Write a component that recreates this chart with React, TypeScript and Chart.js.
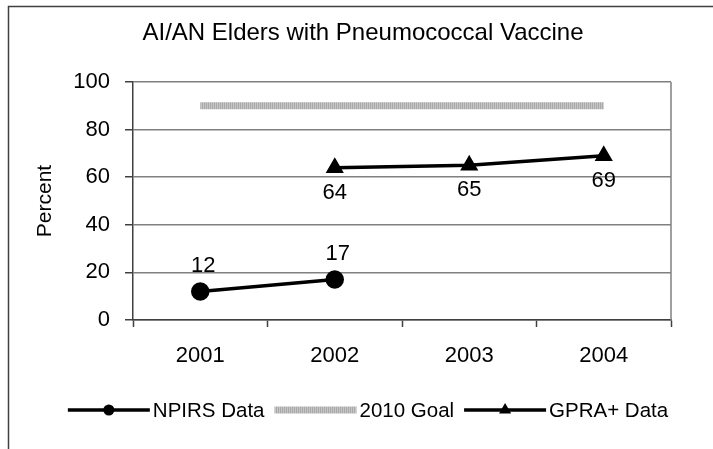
import React, { useEffect, useRef } from "react";
import { Chart, registerables } from "chart.js";

Chart.register(...registerables);

const years = ["2001", "2002", "2003", "2004"];
const npirsData = [12, 17, null, null];
const goalData = [90, 90, 90, 90];
const gpraData = [null, 64, 65, 69];
const seriesNames = ["NPIRS Data", "2010 Goal", "GPRA+ Data"];
const chartTitle = "AI/AN Elders with Pneumococcal Vaccine";
const yAxisTitle = "Percent";
const yMin = 0;
const yMax = 100;
const yStep = 20;

const FONT = '"Liberation Sans", Arial, Helvetica, sans-serif';

function makeGoalPattern(): CanvasPattern | string {
  const c = document.createElement("canvas");
  c.width = 2;
  c.height = 1;
  const g = c.getContext("2d");
  if (!g) return "#b3b3b3";
  g.fillStyle = "#a9a9a9";
  g.fillRect(0, 0, 1, 1);
  g.fillStyle = "#c6c6c6";
  g.fillRect(1, 0, 1, 1);
  const p = g.createPattern(c, "repeat");
  return p || "#b3b3b3";
}

const customPlugin = {
  id: "customDecor",
  beforeDraw(chart: any) {
    const ctx = chart.ctx;
    ctx.save();
    ctx.fillStyle = "#ffffff";
    ctx.fillRect(0, 0, chart.width, chart.height);
    ctx.strokeStyle = "#404040";
    ctx.lineWidth = 1.5;
    ctx.beginPath();
    ctx.moveTo(8.5, chart.height);
    ctx.lineTo(8.5, 6.5);
    ctx.lineTo(chart.width, 6.5);
    ctx.stroke();
    ctx.restore();
  },
  afterDatasetsDraw(chart: any) {
    const ctx = chart.ctx;
    ctx.save();
    ctx.font = `22px ${FONT}`;
    ctx.fillStyle = "#000";
    ctx.textAlign = "center";
    ctx.textBaseline = "middle";
    const m0 = chart.getDatasetMeta(0);
    m0.data.forEach((pt: any, i: number) => {
      const v = npirsData[i];
      if (v == null) return;
      ctx.fillText(String(v), pt.x + 3, pt.y - 26);
    });
    const m2 = chart.getDatasetMeta(2);
    m2.data.forEach((pt: any, i: number) => {
      const v = gpraData[i];
      if (v == null) return;
      ctx.fillText(String(v), pt.x, pt.y + 25);
    });
    ctx.restore();
  },
  afterDraw(chart: any) {
    const ctx = chart.ctx;
    const area = chart.chartArea;
    ctx.save();
    ctx.strokeStyle = "#808080";
    ctx.lineWidth = 1.5;
    ctx.beginPath();
    ctx.moveTo(area.right, area.top);
    ctx.lineTo(area.right, area.bottom);
    ctx.stroke();

    ctx.fillStyle = "#000";
    ctx.font = `24px ${FONT}`;
    ctx.textAlign = "center";
    ctx.textBaseline = "alphabetic";
    ctx.fillText(chartTitle, 363, 40);

    ctx.save();
    ctx.translate(45, (area.top + area.bottom) / 2);
    ctx.rotate(-Math.PI / 2);
    ctx.font = `21px ${FONT}`;
    ctx.textAlign = "center";
    ctx.textBaseline = "middle";
    ctx.fillText(yAxisTitle, 0, 0);
    ctx.restore();

    const ds = chart.data.datasets;
    const lineLen = 82;
    const gapAfterLine = 3;
    const gapAfterText = 10;
    ctx.font = `20.5px ${FONT}`;
    const widths = seriesNames.map((n) => ctx.measureText(n).width);
    const total =
      widths.reduce((a: number, b: number) => a + b, 0) +
      seriesNames.length * (lineLen + gapAfterLine) +
      (seriesNames.length - 1) * gapAfterText;
    let x = 368 - total / 2;
    const ly = 410;
    seriesNames.forEach((name, i) => {
      const d = ds[i];
      ctx.strokeStyle = d.borderColor;
      ctx.lineWidth = d.borderWidth;
      ctx.lineCap = "butt";
      ctx.beginPath();
      ctx.moveTo(x, ly);
      ctx.lineTo(x + lineLen, ly);
      ctx.stroke();
      const cx = x + lineLen / 2;
      ctx.fillStyle = "#000";
      if (d.pointStyle === "circle") {
        ctx.beginPath();
        ctx.arc(cx, ly, 5.5, 0, Math.PI * 2);
        ctx.fill();
      } else if (d.pointStyle === "triangle") {
        const r = 7;
        ctx.beginPath();
        ctx.moveTo(cx, ly - r);
        ctx.lineTo(cx + r * Math.sin((2 * Math.PI) / 3), ly - r * Math.cos((2 * Math.PI) / 3));
        ctx.lineTo(cx + r * Math.sin((4 * Math.PI) / 3), ly - r * Math.cos((4 * Math.PI) / 3));
        ctx.closePath();
        ctx.fill();
      }
      x += lineLen + gapAfterLine;
      ctx.fillStyle = "#000";
      ctx.textAlign = "left";
      ctx.textBaseline = "middle";
      ctx.fillText(name, x, ly + 1);
      x += widths[i] + gapAfterText;
    });
    ctx.restore();
  },
};

export default function App() {
  const ref = useRef<HTMLCanvasElement>(null);

  useEffect(() => {
    const canvas = ref.current;
    if (!canvas) return;
    const goalPattern = makeGoalPattern();
    const chart = new Chart(canvas, {
      type: "line",
      data: {
        labels: years,
        datasets: [
          {
            label: seriesNames[0],
            data: npirsData,
            borderColor: "#000",
            backgroundColor: "#000",
            borderWidth: 3.5,
            pointStyle: "circle",
            pointRadius: 7.5,
            pointBackgroundColor: "#000",
            pointBorderColor: "#000",
            spanGaps: false,
          },
          {
            label: seriesNames[1],
            data: goalData,
            borderColor: goalPattern as any,
            backgroundColor: "#b3b3b3",
            borderWidth: 7,
            borderCapStyle: "butt",
            pointRadius: 0,
          },
          {
            label: seriesNames[2],
            data: gpraData,
            borderColor: "#000",
            backgroundColor: "#000",
            borderWidth: 3.5,
            pointStyle: "triangle",
            pointRadius: 7,
            pointBackgroundColor: "#000",
            pointBorderColor: "#000",
            spanGaps: false,
          },
        ],
      } as any,
      options: {
        responsive: false,
        animation: false,
        devicePixelRatio: 1,
        layout: { padding: { left: 0, right: 42, top: 82, bottom: 0 } },
        plugins: {
          legend: { display: false },
          title: { display: false },
          tooltip: { enabled: false },
        },
        scales: {
          x: {
            offset: true,
            grid: {
              offset: true,
              drawOnChartArea: false,
              drawTicks: true,
              tickLength: 7,
              tickColor: "#404040",
              tickWidth: 1.5,
            },
            border: { color: "#404040", width: 1.5 },
            ticks: {
              font: { family: FONT, size: 22 },
              color: "#000",
              padding: 16,
              maxRotation: 0,
            },
            afterFit(s: any) {
              s.height = 129;
            },
          },
          y: {
            min: yMin,
            max: yMax,
            ticks: {
              stepSize: yStep,
              font: { family: FONT, size: 22 },
              color: "#000",
              padding: 15,
            },
            grid: {
              color: "#808080",
              lineWidth: 1.5,
              tickLength: 8,
              tickColor: "#404040",
              tickWidth: 1.5,
            },
            border: { color: "#404040", width: 1.5 },
            afterFit(s: any) {
              s.width = 133;
            },
          },
        },
      } as any,
      plugins: [customPlugin],
    });
    return () => chart.destroy();
  }, []);

  return (
    <div
      style={{
        position: "fixed",
        left: 0,
        top: 0,
        width: 713,
        height: 449,
        background: "#fff",
      }}
    >
      <canvas
        ref={ref}
        width={713}
        height={449}
        style={{ display: "block", width: 713, height: 449 }}
      />
    </div>
  );
}
